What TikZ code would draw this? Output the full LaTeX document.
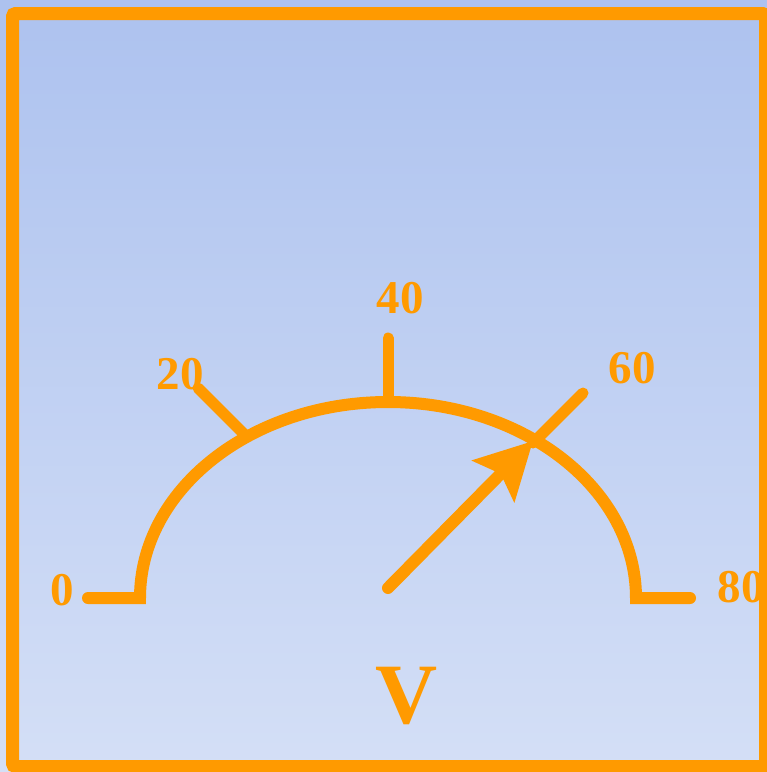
\documentclass[tikz,border=0pt]{standalone}
\usepackage{fontspec}
\setmainfont{Liberation Serif}
\usepackage{tikz}
\usetikzlibrary{arrows.meta}

\definecolor{dialorange}{HTML}{FF9A00}
\definecolor{skytop}{HTML}{ADC2EF}
\definecolor{skybot}{HTML}{D4DFF6}

\begin{document}
\begin{tikzpicture}[
    x=1pt, y=-1pt,
    frame/.style={draw=dialorange, line width=13pt, rounded corners=3pt},
    scale line/.style={draw=dialorange, line width=12pt, line cap=round},
    tick/.style={draw=dialorange, line width=11pt, line cap=round},
    needle/.style={draw=dialorange, line width=12pt, line cap=round,
      -{Stealth[length=56pt, width=58pt, inset=10pt]}},
    num/.style={text=dialorange, inner sep=0pt, font=\bfseries\fontsize{47}{47}\selectfont},
    unit/.style={text=dialorange, inner sep=0pt, font=\bfseries\fontsize{86}{86}\selectfont}]
  \useasboundingbox (0,0) rectangle (767,772);
  \shade[top color=skytop, bottom color=skybot] (0,0) rectangle (767,772);
  \draw[frame] (12.5,13.5) rectangle (765.5,766.5);

  % scale points
  \coordinate (c) at (388,598);
  \coordinate (s0) at (88,598);
  \coordinate (s80) at (690,598);
  \coordinate (t20a) at (198,388);
  \coordinate (t20b) at (246,436);
  \coordinate (t40a) at (388,338);
  \coordinate (t40b) at (388,402);
  \coordinate (t60a) at (583,393);
  \coordinate (t60b) at (533,443);
  \coordinate (tip) at (533,441);
  \coordinate (base) at (388,588);

  % dial
  \draw[scale line] (s0) -- (140,598) arc[start angle=180, end angle=0, x radius=248pt, y radius=196pt] -- (s80);
  \draw[tick] (t20a) -- (t20b);
  \draw[tick] (t40a) -- (t40b);
  \draw[tick] (t60a) -- (t60b);
  \draw[needle] (base) -- (tip);

  % labels
  \node[num] (l0) at (62,590) {0};
  \node[num] (l20) at (180,374) {20};
  \node[num] (l40) at (400,298) {40};
  \node[num] (l60) at (632,368) {60};
  \node[num] (l80) at (741,587) {80};
  \node[unit] (lv) at (407,696) {V};
\end{tikzpicture}
\end{document}
